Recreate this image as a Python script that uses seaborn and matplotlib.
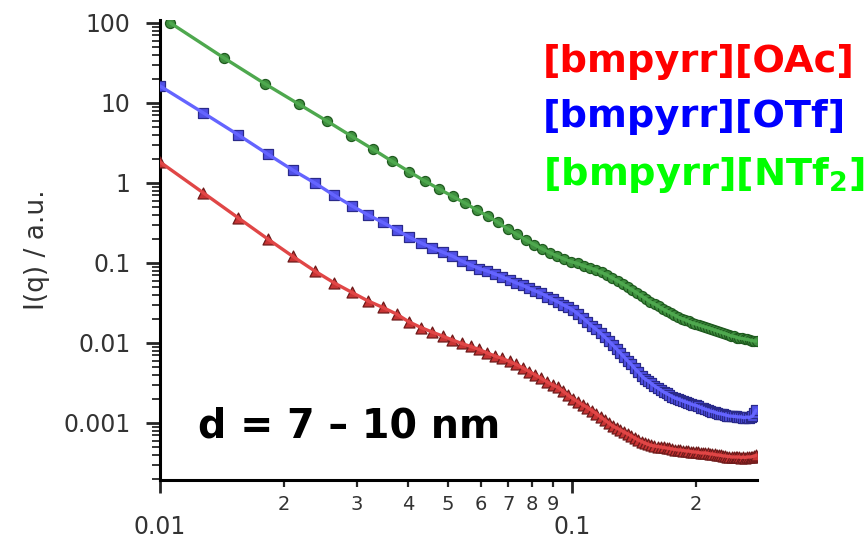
import numpy as np
import pandas as pd
import matplotlib
matplotlib.use("Agg")
import matplotlib.pyplot as plt
import seaborn as sns
from matplotlib.ticker import LogLocator, NullFormatter

# DATA
# q grid shared by [OAc] and [OTf]
q_br = [0.01000, 0.01275, 0.01550, 0.01825, 0.02100, 0.02375, 0.02650, 0.02925, 0.03200, 0.03475,
        0.03750, 0.04025, 0.04300, 0.04575, 0.04850, 0.05125, 0.05400, 0.05675, 0.05950, 0.06225,
        0.06500, 0.06775, 0.07050, 0.07325, 0.07600, 0.07875, 0.08150, 0.08425, 0.08700, 0.08975,
        0.09250, 0.09525, 0.09800, 0.10075, 0.10350, 0.10625, 0.10900, 0.11175, 0.11450, 0.11725,
        0.12000, 0.12275, 0.12550, 0.12825, 0.13100, 0.13375, 0.13650, 0.13925, 0.14200, 0.14475,
        0.14750, 0.15025, 0.15300, 0.15575, 0.15850, 0.16125, 0.16400, 0.16675, 0.16950, 0.17225,
        0.17500, 0.17775, 0.18050, 0.18325, 0.18600, 0.18875, 0.19150, 0.19425, 0.19700, 0.19975,
        0.20250, 0.20525, 0.20800, 0.21075, 0.21350, 0.21625, 0.21900, 0.22175, 0.22450, 0.22725,
        0.23000, 0.23275, 0.23550, 0.23825, 0.24100, 0.24375, 0.24650, 0.24925, 0.25200, 0.25475,
        0.25750, 0.26025, 0.26300, 0.26575, 0.26850, 0.27125, 0.27400, 0.27675, 0.27950]

I_oac = [1.83, 0.750, 0.365, 0.200, 0.121, 0.0794, 0.0562, 0.0428, 0.0335, 0.0278,
         0.0230, 0.0183, 0.0156, 0.0137, 0.0122, 0.0109, 0.00986, 0.00904, 0.00830, 0.00750,
         0.00688, 0.00640, 0.00587, 0.00539, 0.00487, 0.00440, 0.00398, 0.00360, 0.00326, 0.00299,
         0.00278, 0.00248, 0.00221, 0.00200, 0.00183, 0.00168, 0.00156, 0.00143, 0.00131, 0.00119,
         0.00109, 0.00100, 0.000917, 0.000866, 0.000818, 0.000772, 0.000729, 0.000688, 0.000649, 0.000613,
         0.000587, 0.000562, 0.000539, 0.000524, 0.000516, 0.000508, 0.000501, 0.000494, 0.000487, 0.000480,
         0.000473, 0.000466, 0.000460, 0.000460, 0.000453, 0.000447, 0.000447, 0.000440, 0.000434, 0.000434,
         0.000428, 0.000422, 0.000422, 0.000422, 0.000416, 0.000410, 0.000410, 0.000404, 0.000398, 0.000398,
         0.000393, 0.000387, 0.000387, 0.000381, 0.000381, 0.000376, 0.000376, 0.000376, 0.000376, 0.000376,
         0.000370, 0.000376, 0.000370, 0.000376, 0.000376, 0.000376, 0.000381, 0.000387, 0.000393]

I_otf = [16.3, 7.50, 3.98, 2.30, 1.45, 1.00, 0.698, 0.516, 0.398, 0.321,
         0.259, 0.211, 0.178, 0.154, 0.137, 0.122, 0.106, 0.0944, 0.0853, 0.0794,
         0.0729, 0.0668, 0.0613, 0.0562, 0.0524, 0.0480, 0.0447, 0.0416, 0.0381, 0.0350,
         0.0326, 0.0299, 0.0278, 0.0255, 0.0230, 0.0205, 0.0183, 0.0163, 0.0148, 0.0133,
         0.0119, 0.0106, 0.00944, 0.00841, 0.00750, 0.00668, 0.00596, 0.00539, 0.00480, 0.00434,
         0.00387, 0.00355, 0.00335, 0.00312, 0.00290, 0.00274, 0.00259, 0.00244, 0.00234, 0.00224,
         0.00214, 0.00205, 0.00200, 0.00194, 0.00188, 0.00183, 0.00178, 0.00173, 0.00168, 0.00166,
         0.00161, 0.00156, 0.00152, 0.00148, 0.00145, 0.00141, 0.00139, 0.00137, 0.00133, 0.00131,
         0.00130, 0.00128, 0.00126, 0.00124, 0.00122, 0.00122, 0.00121, 0.00121, 0.00119, 0.00119,
         0.00119, 0.00117, 0.00117, 0.00119, 0.00117, 0.00119, 0.00122, 0.00133, 0.00145]

q_ntf = [0.0106, 0.0143, 0.0180, 0.0217, 0.0254, 0.0291, 0.0328, 0.0365, 0.0402, 0.0439,
         0.0476, 0.0513, 0.0550, 0.0587, 0.0624, 0.0661, 0.0698, 0.0735, 0.0772, 0.0809,
         0.0846, 0.0883, 0.0920, 0.0957, 0.0994, 0.1031, 0.1068, 0.1105, 0.1142, 0.1179,
         0.1216, 0.1253, 0.1290, 0.1327, 0.1364, 0.1401, 0.1438, 0.1475, 0.1512, 0.1549,
         0.1586, 0.1623, 0.1660, 0.1697, 0.1734, 0.1771, 0.1808, 0.1845, 0.1882, 0.1919,
         0.1956, 0.1993, 0.2030, 0.2067, 0.2104, 0.2141, 0.2178, 0.2215, 0.2252, 0.2289,
         0.2326, 0.2363, 0.2400, 0.2437, 0.2474, 0.2511, 0.2548, 0.2585, 0.2622, 0.2659,
         0.2696, 0.2733, 0.2770, 0.2807]

I_ntf = [100, 36.5, 17.3, 9.7, 5.96, 3.87, 2.66, 1.88, 1.39, 1.06,
         0.84, 0.68, 0.56, 0.46, 0.387, 0.321, 0.266, 0.227, 0.194, 0.170,
         0.150, 0.135, 0.122, 0.112, 0.104, 0.0986, 0.0917, 0.0866, 0.0818, 0.0761,
         0.0708, 0.0649, 0.0596, 0.0546, 0.0501, 0.0460, 0.0422, 0.0387, 0.0355, 0.0326,
         0.0307, 0.0286, 0.0266, 0.0251, 0.0237, 0.0224, 0.0211, 0.0202, 0.0194, 0.0186,
         0.0178, 0.0173, 0.0168, 0.0163, 0.0158, 0.0154, 0.0150, 0.0145, 0.0141, 0.0137,
         0.0133, 0.0130, 0.0126, 0.0122, 0.0121, 0.0117, 0.0115, 0.0114, 0.0112, 0.0111,
         0.0109, 0.0107, 0.0106, 0.0106]

labels = ["[bmpyrr][OAc]", "[bmpyrr][OTf]", r"[bmpyrr][NTf$_\mathbf{2}$]"]
label_colors = ["#ff0000", "#0000ff", "#00ff00"]

x_major = [0.01, 0.1]
x_major_labels = ["0.01", "0.1"]
x_minor = [0.02, 0.03, 0.04, 0.05, 0.06, 0.07, 0.08, 0.09, 0.2]
x_minor_labels = ["2", "3", "4", "5", "6", "7", "8", "9", "2"]
y_major = [0.001, 0.01, 0.1, 1, 10, 100]
y_major_labels = ["0.001", "0.01", "0.1", "1", "10", "100"]

# STYLE
sns.set_style("ticks")
plt.rcParams["font.family"] = ["DejaVu Sans"]
plt.rcParams["mathtext.fontset"] = "dejavusans"

fig = plt.figure(figsize=(8.67, 5.41), dpi=100)
ax = fig.add_axes([0.1845, 0.1128, 0.6886, 0.8503])
ax.set_xscale("log")
ax.set_yscale("log")

series = [
    (q_br, I_oac, "^", 62, "#c83434", "#6e1a1a", "#e04646"),
    (q_br, I_otf, "s", 46, "#5050e6", "#2a2a8a", "#6464ff"),
    (q_ntf, I_ntf, "o", 52, "#3f8f3f", "#1f5a1f", "#4ea84e"),
]

for q, I, mk, size, face, edge, line in series:
    df = pd.DataFrame({"q": q, "I": I})
    sns.scatterplot(data=df, x="q", y="I", marker=mk, s=size, color=face,
                    edgecolor=edge, linewidth=0.9, ax=ax, zorder=3)
    sns.lineplot(data=df, x="q", y="I", estimator=None, color=line,
                 linewidth=2.4, ax=ax, zorder=4)

ax.set_xlim(0.01, 0.281)
ax.set_ylim(1.94e-4, 109)

# AXES / TICKS
ax.set_xticks(x_major)
ax.set_xticklabels(x_major_labels)
ax.set_xticks(x_minor, minor=True)
ax.set_xticklabels(x_minor_labels, minor=True)
ax.set_yticks(y_major)
ax.set_yticklabels(y_major_labels)
ax.yaxis.set_minor_locator(LogLocator(base=10, subs=np.arange(2, 10)))
ax.yaxis.set_minor_formatter(NullFormatter())

ax.tick_params(axis="x", which="major", length=9, width=2, pad=16,
               labelsize=17, labelcolor="#333333")
ax.tick_params(axis="x", which="minor", length=5, width=1.6, pad=6,
               labelsize=14, labelcolor="#333333")
ax.tick_params(axis="y", which="major", length=10, width=2, pad=11,
               labelsize=17, labelcolor="#333333")
ax.tick_params(axis="y", which="minor", length=6, width=1.3)

sns.despine(ax=ax)
for side in ["left", "bottom"]:
    ax.spines[side].set_linewidth(2.2)
    ax.spines[side].set_color("black")

ax.set_xlabel("")
ax.set_ylabel("I(q) / a.u.", fontsize=19, color="#333333")
ax.yaxis.set_label_coords(-0.184, 0.5)

# LEGEND TEXT
for txt, col, ypos in zip(labels, label_colors, [0.867, 0.765, 0.658]):
    fig.text(0.626, ypos, txt, color=col, fontsize=27.6, fontweight="bold",
             ha="left", va="baseline")

fig.text(0.228, 0.192, "d = 7 \u2013 10 nm", color="black", fontsize=28.5,
         fontweight="bold", ha="left", va="baseline")

plt.savefig("out.png", dpi=100)
plt.close()
